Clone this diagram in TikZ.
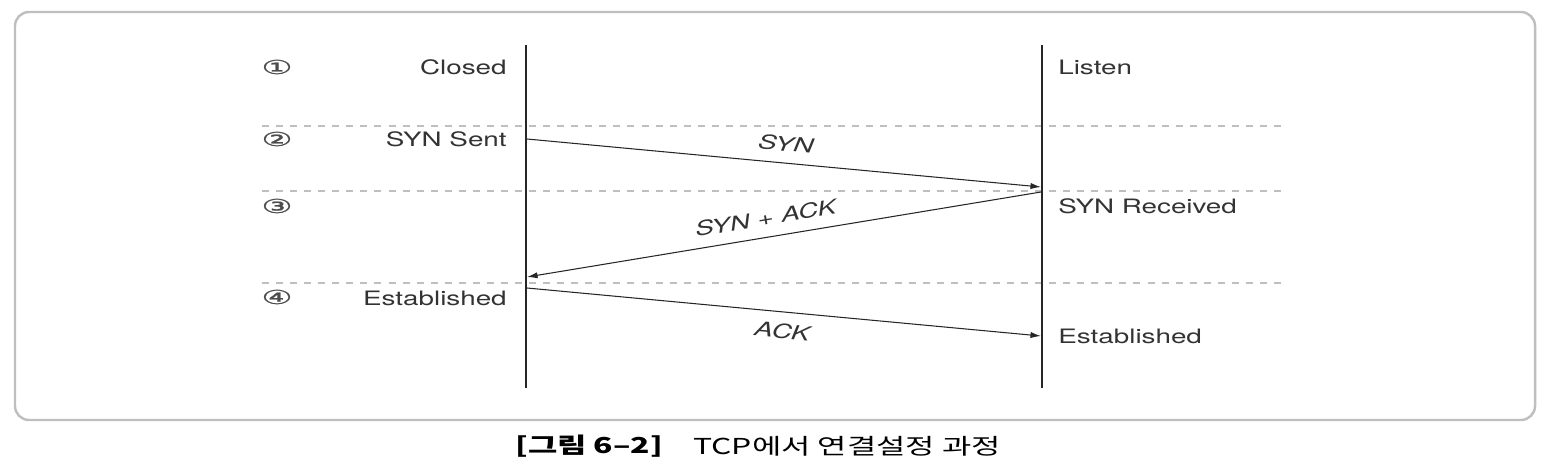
\documentclass[tikz,border=0pt]{standalone}
\usepackage{fontspec}
\usepackage{xcolor}
\usepackage{tikz}
\usetikzlibrary{arrows.meta}
\setmainfont{TeX Gyre Heros}[FakeStretch=1.4]
\newfontfamily\symfont{DejaVu Sans}[FakeStretch=1.8, FakeBold=1]
\newfontfamily\cjkfont{Noto Sans CJK KR}[FakeStretch=1.45]
\definecolor{labelgray}{HTML}{333333}

\tikzset{
  state/.style={font=\fontsize{11.3}{13}\selectfont, text=labelgray, inner sep=0pt},
  stepnum/.style={font=\symfont\fontsize{11}{13}\selectfont, text=black!70, inner sep=0pt},
  msglabel/.style={font=\itshape\fontsize{11.3}{13}\selectfont, text=labelgray, sloped},
  timeline/.style={black!85, line width=1.1pt},
  msg/.style={black!85, line width=0.6pt, -{Latex[length=6pt,width=3.5pt]}},
  phase/.style={black!25, line width=0.6pt, dash pattern=on 4pt off 4pt}
}

\begin{document}
\begin{tikzpicture}[x=0.02cm, y=-0.02cm]
        \useasboundingbox (0,0) rectangle (1550,470);

        % Draw frame
        \draw[black!25, line width=1.4pt, rounded corners=8pt] (15,12) rectangle (1535,420);

        % Phase separators
        \draw[phase] (262,126) -- (1285,126);
        \draw[phase] (262,191) -- (1285,191);
        \draw[phase] (262,283) -- (1285,283);

        % Client and server time lines
        \coordinate (clienttop) at (526,45);
        \coordinate (clientbot) at (526,388);
        \coordinate (servertop) at (1042,45);
        \coordinate (serverbot) at (1042,388);
        \draw[timeline] (clienttop) -- (clientbot);
        \draw[timeline] (servertop) -- (serverbot);

        % Step numbers
        \node[stepnum] (n1) at (277,67) {①};
        \node[stepnum] (n2) at (277,139) {②};
        \node[stepnum] (n3) at (277,206) {③};
        \node[stepnum] (n4) at (277,297) {④};

        % Client states
        \node[state, anchor=east] (closed) at (507,67) {Closed};
        \node[state, anchor=east] (synsent) at (507,139) {SYN Sent};
        \node[state, anchor=east] (estclient) at (507,298) {Established};

        % Server states
        \node[state, anchor=west] (listen) at (1058,67) {Listen};
        \node[state, anchor=west] (synrcvd) at (1058,206) {SYN Received};
        \node[state, anchor=west] (estserver) at (1058,336) {Established};

        % Handshake messages
        \coordinate (synfrom) at (527,139);
        \coordinate (synto) at (1041,187);
        \coordinate (sackfrom) at (1041,192);
        \coordinate (sackto) at (527,277);
        \coordinate (ackfrom) at (527,288);
        \coordinate (ackto) at (1041,336);
        \draw[msg] (synfrom) -- (synto) node[msglabel, midway, above=3pt] {SYN};
        \draw[msg] (sackfrom) -- (sackto) node[msglabel, pos=0.53, above=3pt] {SYN + ACK};
        \draw[msg] (ackfrom) -- (ackto) node[msglabel, midway, below=3pt] {ACK};

        % Caption
        \node[font=\cjkfont\bfseries\fontsize{12.5}{14}\selectfont, anchor=west, inner sep=0pt] (capnum) at (515,446) {[그림 6–2]};
        \node[font=\cjkfont\fontsize{12.5}{14}\selectfont, anchor=west, inner sep=0pt] (captext) at (693,446) {TCP에서 연결설정 과정};
    \end{tikzpicture}
\end{document}
